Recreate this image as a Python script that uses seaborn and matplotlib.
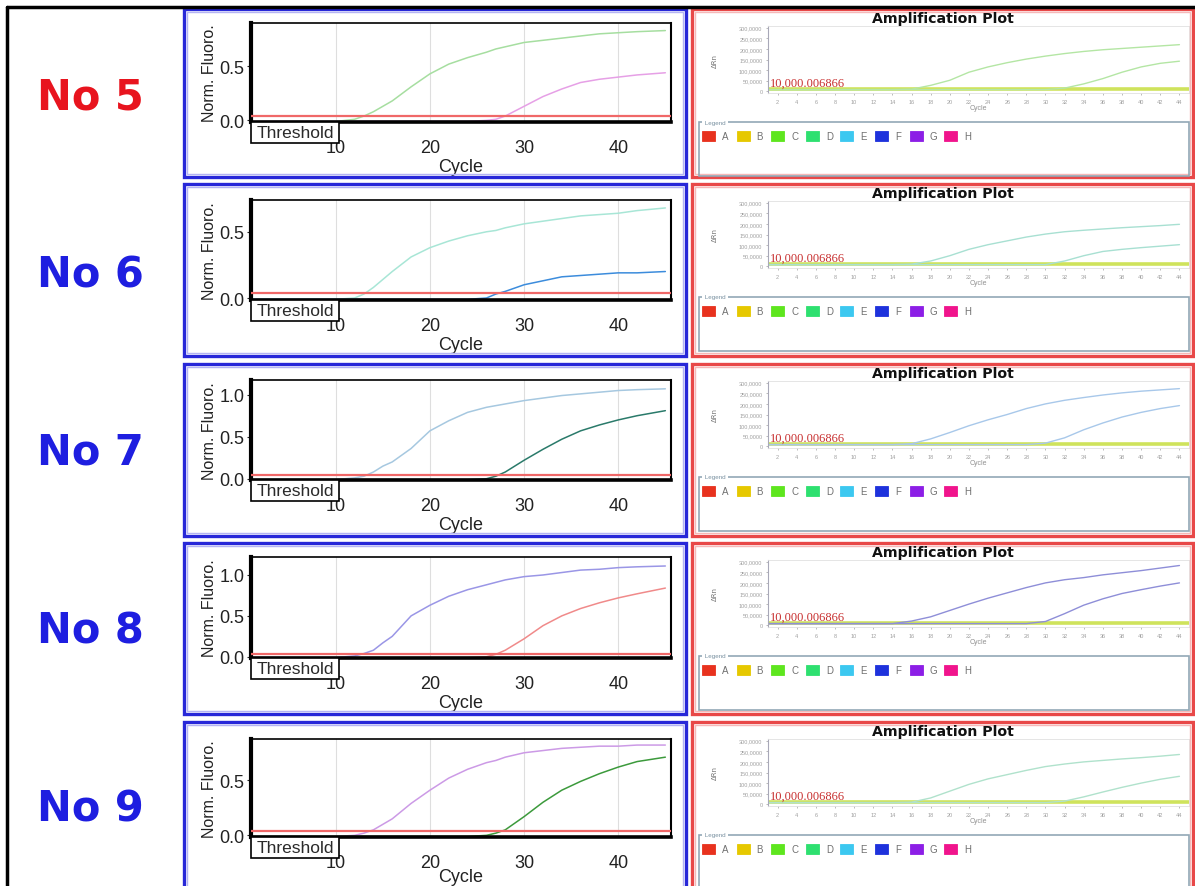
import matplotlib
matplotlib.use('Agg')
import matplotlib.pyplot as plt
from matplotlib.patches import Rectangle
from matplotlib.lines import Line2D
import pandas as pd
import seaborn as sns

# --- DATA ---
ROW_NAMES = ['No 5', 'No 6', 'No 7', 'No 8', 'No 9']
ROW_NAME_COLORS = ['#e8141e', '#1e1ee0', '#1e1ee0', '#1e1ee0', '#1e1ee0']

# left panels: normalised fluorescence per cycle
CYC = [1, 5, 10, 12, 13, 14, 15, 16, 18, 20, 22, 24, 26, 27, 28, 30, 32, 34, 36, 38, 40, 42, 45]
NF_EARLY = [
    [-0.01, -0.01, -0.01, 0.01, 0.04, 0.08, 0.13, 0.18, 0.31, 0.43, 0.52, 0.58, 0.63, 0.66, 0.68, 0.72, 0.74, 0.76, 0.78, 0.80, 0.81, 0.82, 0.83],
    [-0.01, -0.01, -0.01, 0.00, 0.03, 0.08, 0.14, 0.20, 0.31, 0.38, 0.43, 0.47, 0.50, 0.51, 0.53, 0.56, 0.58, 0.60, 0.62, 0.63, 0.64, 0.66, 0.68],
    [-0.01, -0.01, -0.01, 0.01, 0.03, 0.08, 0.15, 0.20, 0.36, 0.57, 0.69, 0.79, 0.85, 0.87, 0.89, 0.93, 0.96, 0.99, 1.01, 1.03, 1.05, 1.06, 1.07],
    [-0.01, -0.01, -0.01, 0.01, 0.04, 0.08, 0.17, 0.25, 0.50, 0.63, 0.74, 0.82, 0.88, 0.91, 0.94, 0.98, 1.00, 1.03, 1.06, 1.07, 1.09, 1.10, 1.11],
    [-0.01, -0.01, -0.01, 0.00, 0.02, 0.05, 0.10, 0.15, 0.29, 0.41, 0.52, 0.60, 0.66, 0.68, 0.71, 0.75, 0.77, 0.79, 0.80, 0.81, 0.81, 0.82, 0.82],
]
NF_LATE = [
    [-0.01] * 12 + [0.00, 0.01, 0.04, 0.13, 0.22, 0.29, 0.35, 0.38, 0.40, 0.42, 0.44],
    [-0.01] * 12 + [0.00, 0.03, 0.05, 0.10, 0.13, 0.16, 0.17, 0.18, 0.19, 0.19, 0.20],
    [-0.01] * 12 + [0.00, 0.03, 0.08, 0.22, 0.35, 0.47, 0.57, 0.64, 0.70, 0.75, 0.81],
    [-0.01] * 12 + [0.00, 0.03, 0.08, 0.22, 0.38, 0.50, 0.59, 0.66, 0.72, 0.77, 0.84],
    [-0.01] * 12 + [0.00, 0.02, 0.05, 0.17, 0.30, 0.41, 0.49, 0.56, 0.62, 0.67, 0.71],
]
NF_COLORS = [('#a6dea0', '#e6a0e6'), ('#a8e6d6', '#3c8cdc'), ('#a6c8e0', '#2a7a6a'),
             ('#9a96e6', '#f08a8a'), ('#cc9ae6', '#3c9a3c')]
NF_YMAX = [0.90, 0.74, 1.175, 1.22, 0.875]
NF_YTICKS = [[0.0, 0.5], [0.0, 0.5], [0.0, 0.5, 1.0], [0.0, 0.5, 1.0], [0.0, 0.5]]
NF_THRESHOLD = 0.04

# right panels: delta Rn (thousands) per cycle
RN_CYC = [1, 5, 10, 14, 16, 18, 20, 22, 24, 26, 28, 30, 32, 34, 36, 38, 40, 42, 44]
RN_EARLY = [
    [8, 8, 8, 8, 10, 28, 52, 90, 115, 135, 152, 166, 178, 188, 196, 202, 208, 214, 220],
    [8, 8, 8, 8, 10, 25, 50, 80, 102, 120, 138, 152, 163, 170, 176, 182, 187, 192, 198],
    [8, 8, 8, 8, 12, 35, 65, 97, 125, 150, 178, 200, 217, 230, 242, 252, 260, 266, 272],
    [8, 8, 8, 8, 20, 40, 70, 100, 128, 153, 178, 200, 215, 225, 238, 248, 258, 270, 282],
    [8, 8, 8, 8, 10, 30, 62, 94, 120, 140, 160, 178, 190, 200, 207, 214, 220, 227, 235],
]
RN_LATE = [
    [8] * 12 + [15, 35, 60, 90, 115, 132, 142],
    [8] * 12 + [25, 50, 70, 80, 88, 95, 102],
    [8] * 11 + [15, 40, 78, 110, 138, 160, 178, 192],
    [8] * 11 + [18, 55, 95, 125, 150, 168, 185, 200],
    [8] * 12 + [15, 35, 58, 80, 100, 118, 132],
]
RN_COLORS = ['#b4e6a4', '#a8e0d2', '#a8c8ea', '#8e8ed8', '#b0e2cc']
RN_SCALE = 1000
RN_THRESHOLD = 10.000006866
RN_THRESHOLD_LABEL = '10,000.006866'
RN_YTICKS = [0, 50, 100, 150, 200, 250, 300]
RN_YTICKLABELS = ['0', '50,0000', '100,0000', '150,0000', '200,0000', '250,0000', '300,0000']
RN_XTICKS = list(range(2, 45, 2))

LEGEND_WELLS = ['A', 'B', 'C', 'D', 'E', 'F', 'G', 'H']
LEGEND_COLORS = ['#e8321e', '#e6c800', '#5ee61e', '#2ee070', '#3cc8f0', '#1e32dc', '#8c1ee6', '#f0148c']

# --- LAYOUT (pixels) ---
W, H = 1195, 887
ROW_TOP = [10, 185, 365, 544, 723]
ROW_BOT = [178, 357, 537, 715, 905]
NAME_Y = [97, 275, 453, 632, 810]
NF_AX_Y = [(24, 123), (201, 301), (381, 481), (558, 659), (740, 838)]
NF_AX_X = (251, 671)
RN_AX_X = (768, 1189)


def frac_rect(x0, y0, x1, y1):
    return [x0 / W, 1 - y1 / H, (x1 - x0) / W, (y1 - y0) / H]


def fig_box(fig, x0, y0, x1, y1, **kw):
    r = Rectangle((x0 / W, 1 - y1 / H), (x1 - x0) / W, (y1 - y0) / H,
                  transform=fig.transFigure, **kw)
    fig.add_artist(r)
    return r


sns.set_style('white')
plt.rcParams['font.family'] = ['Liberation Sans', 'DejaVu Sans']

fig = plt.figure(figsize=(W / 100, H / 100), dpi=100)
fig.patch.set_facecolor('white')

# outer black lines
fig.add_artist(Line2D([7 / W, 1], [1 - 8 / H, 1 - 8 / H], color='black', lw=2.5, transform=fig.transFigure))
fig.add_artist(Line2D([7 / W, 7 / W], [0, 1 - 8 / H], color='black', lw=2.5, transform=fig.transFigure))

for i in range(5):
    top, bot = ROW_TOP[i], ROW_BOT[i]

    # sample label
    fig.text(90 / W, 1 - NAME_Y[i] / H, ROW_NAMES[i], ha='center', va='center',
             fontsize=30, weight='bold', color=ROW_NAME_COLORS[i], family='DejaVu Sans')

    # frames
    fig_box(fig, 184, top, 686, bot, fill=False, ec='#2828d8', lw=2.4)
    fig_box(fig, 187, top + 3, 683, bot - 3, fill=False, ec='#b4b4f4', lw=1)
    fig_box(fig, 692, top, 1193, bot, fill=False, ec='#e84848', lw=2.4)
    fig_box(fig, 695, top + 3, 1190, bot - 3, fill=False, ec='#f6b8b8', lw=1)

    # ---- left: normalised fluorescence ----
    y0, y1 = NF_AX_Y[i]
    ax = fig.add_axes(frac_rect(NF_AX_X[0], y0, NF_AX_X[1], y1))
    n = len(CYC)
    df = pd.DataFrame({'cycle': CYC * 2,
                       'fluoro': NF_EARLY[i] + NF_LATE[i],
                       'curve': ['early'] * n + ['late'] * n})
    sns.lineplot(data=df, x='cycle', y='fluoro', hue='curve',
                 palette={'early': NF_COLORS[i][0], 'late': NF_COLORS[i][1]},
                 linewidth=1.1, legend=False, ax=ax)
    ax.axhline(NF_THRESHOLD, color='#f06868', lw=1.6, zorder=3)
    ax.set_xlim(1, 45.6)
    ax.set_ylim(-0.015, NF_YMAX[i])
    ax.set_xticks([10, 20, 30, 40])
    ax.set_yticks(NF_YTICKS[i])
    ax.set_yticklabels([f'{t:.1f}' for t in NF_YTICKS[i]])
    ax.grid(axis='x', color='#dedede', lw=0.8)
    ax.grid(axis='y', visible=False)
    ax.tick_params(axis='x', length=0, pad=12.5, labelsize=13, labelcolor='#222')
    ax.tick_params(axis='y', length=3, width=0.8, pad=1.5, labelsize=13, labelcolor='#222', left=True)
    for side, lw in {'left': 3, 'bottom': 2.6, 'top': 1.2, 'right': 1.5}.items():
        ax.spines[side].set_color('black')
        ax.spines[side].set_linewidth(lw)
    ax.set_xlabel('Cycle', fontsize=13, labelpad=(1 if i < 4 else -2.5), color='#222')
    ax.set_ylabel('Norm. Fluoro.', fontsize=11.5, labelpad=2, color='#222')

    h = y1 - y0
    w = NF_AX_X[1] - NF_AX_X[0]
    ax.add_patch(Rectangle((0, -21 / h), 88 / w, 21 / h, transform=ax.transAxes,
                           fc='white', ec='black', lw=1.2, clip_on=False, zorder=6))
    ax.text(44 / w, -10.5 / h, 'Threshold', transform=ax.transAxes, ha='center', va='center',
            fontsize=12.5, color='#2a2a2a', zorder=7, clip_on=False)

    # ---- right: amplification plot ----
    fig.text(943 / W, 1 - (top + 9) / H, 'Amplification Plot', ha='center', va='center',
             fontsize=10.2, weight='bold', family='DejaVu Sans', color='#111')

    r0, r1 = top + 17, top + 84
    axr = fig.add_axes(frac_rect(RN_AX_X[0], r0, RN_AX_X[1], r1))
    m = len(RN_CYC)
    dfr = pd.DataFrame({'cycle': RN_CYC * 2,
                        'rn': [v * RN_SCALE for v in RN_EARLY[i] + RN_LATE[i]],
                        'curve': ['early'] * m + ['late'] * m})
    axr.axhline(RN_THRESHOLD * RN_SCALE, color='#cfe35c', lw=2.6, zorder=1)
    sns.lineplot(data=dfr, x='cycle', y='rn', hue='curve',
                 palette={'early': RN_COLORS[i], 'late': RN_COLORS[i]},
                 linewidth=1, legend=False, ax=axr)
    axr.text(1.15, RN_THRESHOLD * RN_SCALE, RN_THRESHOLD_LABEL, ha='left', va='bottom',
             fontsize=9, color='#c83030', family='Liberation Serif', zorder=5)
    axr.set_xlim(1, 45)
    axr.set_ylim(-8000, 308000)
    axr.set_xticks(RN_XTICKS)
    axr.set_xticklabels([str(t) for t in RN_XTICKS])
    axr.set_yticks([t * RN_SCALE for t in RN_YTICKS])
    axr.set_yticklabels(RN_YTICKLABELS)
    axr.tick_params(axis='both', length=1.5, width=0.5, pad=2.5, labelsize=4,
                    colors='#a0a0a0', bottom=True, left=True)
    axr.spines['left'].set_color('#a8a8b8')
    axr.spines['left'].set_linewidth(0.8)
    for side in ['top', 'right', 'bottom']:
        axr.spines[side].set_color('#e0e0e0')
        axr.spines[side].set_linewidth(0.6)
    axr.set_xlabel('Cycle', fontsize=5, color='#909090')
    axr.set_ylabel('ΔRn', fontsize=5, color='#707070', family='DejaVu Sans')
    axr.xaxis.set_label_coords(0.5, -0.17)
    axr.yaxis.set_label_coords(-0.12, 0.5)

    # legend group box
    fig_box(fig, 699, top + 113, 1189, top + 167, fill=False, ec='#92a8b6', lw=1.2)
    fig.text(703 / W, 1 - (top + 113) / H, ' Legend ', ha='left', va='center', fontsize=4.5,
             color='#7890a0', bbox=dict(fc='white', ec='none', pad=0.5))
    for k, (well, col) in enumerate(zip(LEGEND_WELLS, LEGEND_COLORS)):
        lx = 702 + 34.6 * k
        fig_box(fig, lx, top + 122, lx + 13, top + 132, fc=col, ec=col, lw=0.6)
        fig.text((lx + 20) / W, 1 - (top + 127) / H, well, ha='left', va='center',
                 fontsize=7, color='#707070')

plt.savefig('out.png', dpi=100)
